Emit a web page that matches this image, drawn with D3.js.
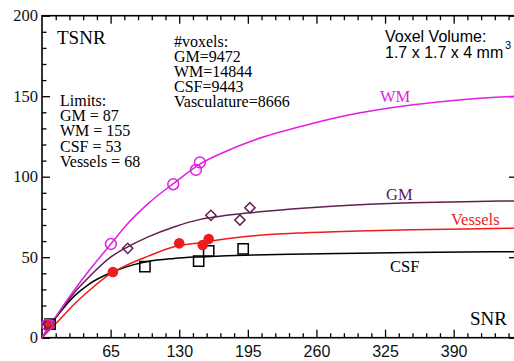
<!DOCTYPE html>
<html>
<head>
<meta charset="utf-8">
<script src="https://cdn.jsdelivr.net/npm/d3@7"></script>
<style>
  body { margin: 0; background: #fff; }
  svg { display: block; }
  .serif { font-family: "Liberation Serif", "DejaVu Serif", serif; }
  .sans { font-family: "Liberation Sans", Arial, sans-serif; }
</style>
</head>
<body>
<svg width="514" height="361"></svg>
<script>
// curve samples (SNR -> TSNR)
const snrGrid = [0, 15, 30, 45, 65, 80, 100, 125, 150, 175, 200, 250, 300, 350, 400, 450]
const wmFit = [0, 15, 29, 42, 58, 70, 83, 96, 108, 116, 122.5, 132, 139.5, 144.5, 148, 150]
const gmFit = [0, 14.5, 27.5, 38, 50, 56, 62.5, 68.8, 73.5, 76, 77.8, 80.6, 82.6, 83.8, 84.5, 85]
const vesselFit = [0, 10, 20.5, 29.5, 39.8, 45, 50.5, 56.5, 59, 61.5, 63.3, 65.2, 66.3, 67, 67.5, 68]
const csfFit = [0, 14, 25.5, 33.5, 40.3, 44, 47.3, 49.2, 50.2, 50.9, 51.4, 52, 52.5, 52.9, 53.2, 53.4]

// measured points [SNR, TSNR]
const wmPts = [[4.7, 7.9], [65.3, 58.2], [124.3, 95.3], [145.8, 104.2], [149.6, 108.9]]
const gmPts = [[5.7, 8.5], [81.2, 55.5], [160, 76], [187.5, 73.1], [197, 80.7]]
const vesselPts = [[6.9, 7.9], [67.2, 40.8], [130, 58.6], [152.2, 57.6], [157.9, 61.3]]
const csfPts = [[7.6, 8.5], [97.5, 44.1], [148.4, 47.6], [157.9, 53.9], [190.6, 55.1]]

const xTicks = [65, 130, 195, 260, 325, 390]
const yTicks = [0, 50, 100, 150, 200]

const voxelLines = ['#voxels:', 'GM=9472', 'WM=14844', 'CSF=9443', 'Vasculature=8666']
const limitLines = ['Limits:', 'GM = 87', 'WM = 155', 'CSF = 53', 'Vessels = 68']

const svg = d3.select('svg')
const width = +svg.attr('width')
const height = +svg.attr('height')

const margin = {top: 15.7, left: 42, right: 517, bottom: 337.7}

const xscale = d3.scaleLinear().domain([0, 450]).range([margin.left, margin.right])
const yscale = d3.scaleLinear().domain([0, 200]).range([margin.bottom, margin.top])

const xMinor = d3.range(0, 451, 13).filter(v => v % 65 !== 0)
const yMinor = d3.range(0, 201, 10).filter(v => v % 50 !== 0)

// ticks pointing into the plot on all four sides
const axes = svg.append('g').attr('class', 'axes')

const bottomMajor = axes.append('g')
    .attr('transform', `translate(0, ${margin.bottom})`)
    .call(d3.axisBottom(xscale).tickValues(xTicks).tickSizeInner(-8).tickSizeOuter(0).tickPadding(7.5))
bottomMajor.selectAll('text').attr('class', 'sans').style('font-size', '16px').attr('fill', '#111')
axes.append('g')
    .attr('transform', `translate(0, ${margin.bottom})`)
    .call(d3.axisBottom(xscale).tickValues(xMinor).tickSizeInner(-4.5).tickSizeOuter(0).tickFormat(''))

axes.append('g')
    .attr('transform', `translate(0, ${margin.top})`)
    .call(d3.axisTop(xscale).tickValues(xTicks).tickSizeInner(-8).tickSizeOuter(0).tickFormat(''))
axes.append('g')
    .attr('transform', `translate(0, ${margin.top})`)
    .call(d3.axisTop(xscale).tickValues(xMinor).tickSizeInner(-4.5).tickSizeOuter(0).tickFormat(''))

const leftMajor = axes.append('g')
    .attr('transform', `translate(${margin.left}, 0)`)
    .call(d3.axisLeft(yscale).tickValues(yTicks).tickSizeInner(-8).tickSizeOuter(0).tickPadding(4))
leftMajor.selectAll('text').attr('class', 'serif').style('font-size', '16.5px').attr('fill', '#111')
axes.append('g')
    .attr('transform', `translate(${margin.left}, 0)`)
    .call(d3.axisLeft(yscale).tickValues(yMinor).tickSizeInner(-4.5).tickSizeOuter(0).tickFormat(''))

axes.append('g')
    .attr('transform', `translate(${margin.right}, 0)`)
    .call(d3.axisRight(yscale).tickValues(yTicks).tickSizeInner(-8).tickSizeOuter(0).tickFormat(''))

axes.selectAll('.domain').remove()
axes.selectAll('.tick line').attr('stroke', '#000').attr('stroke-width', 1.3)

// frame
svg.append('rect')
    .attr('x', margin.left)
    .attr('y', margin.top)
    .attr('width', margin.right - margin.left)
    .attr('height', margin.bottom - margin.top)
    .attr('fill', 'none')
    .attr('stroke', '#000')
    .attr('stroke-width', 1.6)

// fitted curves
const series = [
    {name: 'CSF', fit: csfFit, pts: csfPts, color: '#000000', shape: 'square'},
    {name: 'Vessels', fit: vesselFit, pts: vesselPts, color: '#ee1c1c', shape: 'dot'},
    {name: 'GM', fit: gmFit, pts: gmPts, color: '#63204f', shape: 'diamond'},
    {name: 'WM', fit: wmFit, pts: wmPts, color: '#e21ee2', shape: 'circle'}
]

const line = d3.line()
    .x((d, i) => xscale(snrGrid[i]))
    .y(d => yscale(d))
    .curve(d3.curveMonotoneX)

svg.append('g').selectAll('path').data(series)
    .enter()
    .append('path')
        .attr('d', d => line(d.fit))
        .attr('fill', 'none')
        .attr('stroke', d => d.color)
        .attr('stroke-width', 1.5)

// markers, the diamond is a square turned 45 degrees
const symbolFor = {
    square: d3.symbol().type(d3.symbolSquare).size(105),
    diamond: d3.symbol().type(d3.symbolSquare).size(52),
    circle: d3.symbol().type(d3.symbolCircle).size(92),
    dot: d3.symbol().type(d3.symbolCircle).size(88)
}

series.forEach(s => {
    svg.append('g').selectAll('path').data(s.pts)
        .enter()
        .append('path')
            .attr('transform', d => `translate(${xscale(d[0])}, ${yscale(d[1])})` + (s.shape === 'diamond' ? ' rotate(45)' : ''))
            .attr('d', symbolFor[s.shape]())
            .attr('fill', s.shape === 'dot' ? s.color : 'none')
            .attr('stroke', s.color)
            .attr('stroke-width', s.shape === 'dot' ? 0 : 1.5)
})

// curve labels
const labels = [
    {text: 'WM', x: 380, y: 101.5, color: '#e21ee2'},
    {text: 'GM', x: 386, y: 200, color: '#63204f'},
    {text: 'Vessels', x: 451, y: 225, color: '#ee1c1c'},
    {text: 'CSF', x: 390, y: 272, color: '#000'}
]
svg.append('g').selectAll('text').data(labels)
    .enter()
    .append('text')
        .attr('class', 'serif')
        .attr('x', d => d.x)
        .attr('y', d => d.y)
        .attr('fill', d => d.color)
        .style('font-size', '16.5px')
        .text(d => d.text)

// annotations
svg.append('text').attr('class', 'serif').attr('x', 57).attr('y', 43.5)
    .style('font-size', '19px').text('TSNR')
svg.append('text').attr('class', 'serif').attr('x', 470).attr('y', 325)
    .style('font-size', '19px').text('SNR')

svg.append('g').selectAll('text').data(voxelLines)
    .enter()
    .append('text')
        .attr('class', 'serif')
        .attr('x', 174)
        .attr('y', (d, i) => 47 + i * 15)
        .style('font-size', '16px')
        .text(d => d)

svg.append('g').selectAll('text').data(limitLines)
    .enter()
    .append('text')
        .attr('class', 'serif')
        .attr('x', 60)
        .attr('y', (d, i) => 106 + i * 15.2)
        .style('font-size', '16px')
        .text(d => d)

const vol = svg.append('g').attr('class', 'sans').style('font-size', '16px')
vol.append('text').attr('x', 385).attr('y', 41.5).text('Voxel Volume:')
vol.append('text').attr('x', 385).attr('y', 57.5).text('1.7 x 1.7 x 4 mm')
vol.append('text').attr('x', 505).attr('y', 49).style('font-size', '11px').text('3')
</script>
</body>
</html>
